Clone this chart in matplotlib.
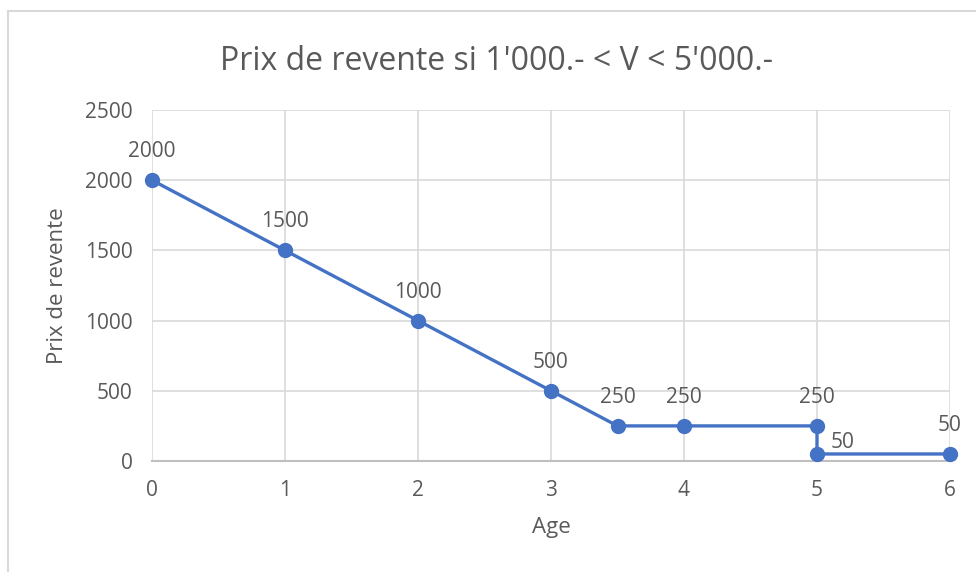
import matplotlib.pyplot as plt
from matplotlib.lines import Line2D

plt.rcParams['font.family'] = ['Open Sans', 'DejaVu Sans']

# Data
age = [0, 1, 2, 3, 3.5, 4, 5, 5, 6]
prix = [2000, 1500, 1000, 500, 250, 250, 250, 50, 50]
label_pos = ['above'] * 7 + ['right', 'above']

blue = '#4472C4'
grey_text = '#595959'
grid_col = '#D9D9D9'

fig = plt.figure(figsize=(9.76, 5.72), dpi=100)
ax = fig.add_axes([152 / 976, 111 / 572, 798 / 976, 351 / 572])

ax.plot(age, prix, color=blue, linewidth=2.4, marker='o', markersize=10,
        solid_capstyle='round', zorder=3, clip_on=False)

for x, y, pos in zip(age, prix, label_pos):
    if pos == 'right':
        ax.annotate(str(y), (x, y), xytext=(10, 4.5), textcoords='offset points',
                    ha='left', va='baseline', fontsize=15, color=grey_text)
    else:
        ax.annotate(str(y), (x, y), xytext=(0, 16.5), textcoords='offset points',
                    ha='center', va='baseline', fontsize=15, color=grey_text)

ax.set_xlim(0, 6)
ax.set_ylim(0, 2500)
ax.set_xticks(range(0, 7))
ax.set_yticks(range(0, 2501, 500))
ax.grid(True, color=grid_col, linewidth=1.2)
ax.set_axisbelow(True)
for side in ['top', 'right', 'left']:
    ax.spines[side].set_visible(False)
ax.spines['bottom'].set_color('#BFBFBF')
ax.spines['bottom'].set_linewidth(1.5)
ax.tick_params(length=0, labelsize=15, labelcolor=grey_text, pad=14)
ax.tick_params(axis='y', pad=14)

ax.set_xlabel('Age', fontsize=16, color=grey_text, labelpad=11)
ax.set_ylabel('Prix de revente', fontsize=16, color=grey_text, labelpad=12)

fig.suptitle("Prix de revente si 1'000.- < V < 5'000.-", fontsize=23,
             color=grey_text, x=497 / 976, y=1 - 62 / 572, va='center')

# chart border (left and top visible in reference)
fig.add_artist(Line2D([8 / 976, 8 / 976], [0, 1 - 11 / 572], color='#D9D9D9',
                      linewidth=1.5, transform=fig.transFigure))
fig.add_artist(Line2D([8 / 976, 1], [1 - 11 / 572, 1 - 11 / 572], color='#D9D9D9',
                      linewidth=1.5, transform=fig.transFigure))

fig.savefig('out.png', dpi=100)
